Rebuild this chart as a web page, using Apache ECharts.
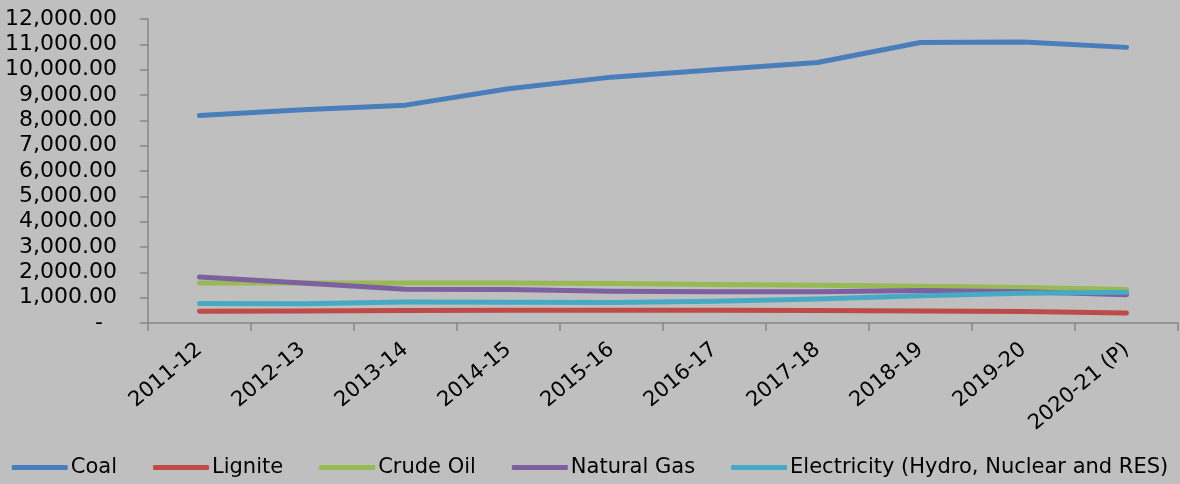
<!DOCTYPE html>
<html>
<head>
<meta charset="utf-8">
<script src="https://cdn.jsdelivr.net/npm/echarts@6/dist/echarts.min.js"></script>
<style>
html,body{margin:0;padding:0;background:#BFBFBF;}
#c{width:1180px;height:484px;}
</style>
</head>
<body>
<div id="c"></div>
<script>
const categories = ['2011-12','2012-13','2013-14','2014-15','2015-16','2016-17','2017-18','2018-19','2019-20','2020-21 (P)'];
const coal        = [8190, 8420, 8600, 9245, 9705, 10000, 10285, 11075, 11090, 10880];
const lignite     = [460, 475, 490, 500, 500, 500, 490, 475, 450, 395];
const crudeOil    = [1580, 1580, 1580, 1580, 1560, 1520, 1490, 1450, 1400, 1320];
const naturalGas  = [1820, 1580, 1330, 1320, 1250, 1230, 1230, 1280, 1230, 1120];
const electricity = [770, 760, 830, 820, 805, 860, 950, 1080, 1175, 1215];
const yTicks = {min: 0, max: 12000, interval: 1000};

const seriesDefs = [
  {name: 'Coal', data: coal, color: '#4A7EBB'},
  {name: 'Lignite', data: lignite, color: '#BE4B48'},
  {name: 'Crude Oil', data: crudeOil, color: '#98B954'},
  {name: 'Natural Gas', data: naturalGas, color: '#7D60A0'},
  {name: 'Electricity (Hydro, Nuclear and RES)', data: electricity, color: '#46AAC5'}
];

const font = 'DejaVu Sans';
const chart = echarts.init(document.getElementById('c'));
chart.setOption({
  backgroundColor: '#BFBFBF',
  animation: false,
  grid: {left: 148, right: 2, top: 19, bottom: 161, containLabel: false, outerBoundsMode: 'none'},
  legend: {
    left: 'center', top: 457, padding: 0, width: 1180,
    icon: 'roundRect', itemWidth: 56, itemHeight: 5, itemGap: 36,
    textStyle: {fontFamily: font, fontSize: 21, color: '#000', padding: [0, 0, 0, -2]},
    data: seriesDefs.map(s => s.name)
  },
  xAxis: {
    type: 'category', data: categories, boundaryGap: true,
    axisLine: {lineStyle: {color: '#868686', width: 1.5}},
    axisTick: {show: true, length: 8, lineStyle: {color: '#868686', width: 1.5}},
    axisLabel: {rotate: 40, margin: 24, interval: 0, fontFamily: font, fontSize: 21, color: '#000'},
    splitLine: {show: false}
  },
  yAxis: {
    type: 'value', min: yTicks.min, max: yTicks.max, interval: yTicks.interval,
    axisLine: {show: true, lineStyle: {color: '#868686', width: 1.5}},
    axisTick: {show: true, length: 8, lineStyle: {color: '#868686', width: 1.5}},
    axisLabel: {
      margin: 31, fontFamily: font, fontSize: 22, color: '#000',
      formatter: v => v === 0 ? '-  ' : v.toLocaleString('en-US', {minimumFractionDigits: 2, maximumFractionDigits: 2})
    },
    splitLine: {show: false}
  },
  series: seriesDefs.map(s => ({
    name: s.name, type: 'line', data: s.data, symbol: 'none',
    color: s.color,
    lineStyle: {color: s.color, width: 5, cap: 'round', join: 'round'},
    itemStyle: {color: s.color}
  }))
});
</script>
</body>
</html>
